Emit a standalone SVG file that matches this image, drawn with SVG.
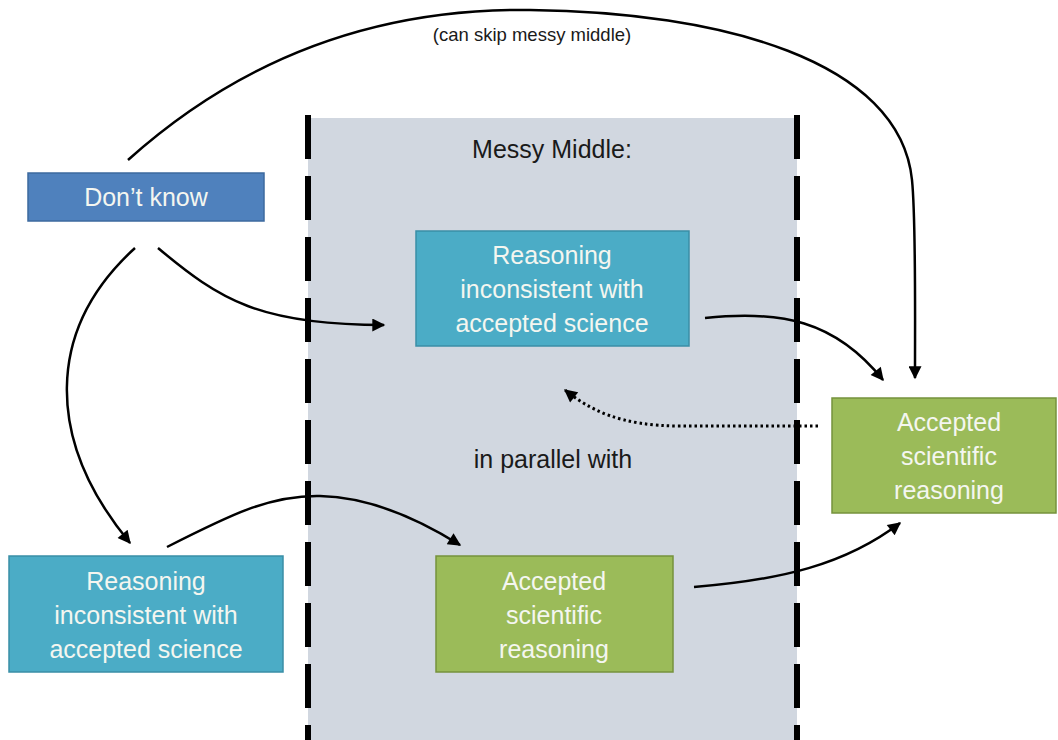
<svg xmlns="http://www.w3.org/2000/svg" width="1058" height="740" viewBox="0 0 1058 740">
<defs>
<style>
.lbl{font-family:"Liberation Sans",Arial,sans-serif;font-size:25px;fill:#f4f6f0;text-anchor:middle}
.dark{font-family:"Liberation Sans",Arial,sans-serif;fill:#1a1a1a;text-anchor:middle}
.conn{fill:none;stroke:#000;stroke-width:2.5}
.dot{fill:none;stroke:#000;stroke-width:3;stroke-dasharray:2.5 3}
.dash{stroke:#000;stroke-width:6;stroke-dasharray:44 17}
</style>
<marker id="ah" viewBox="0 0 10 10" refX="9" refY="5" markerWidth="15" markerHeight="13" markerUnits="userSpaceOnUse" orient="auto">
<path d="M0,0 L10,5 L0,10 z" fill="#000"/>
</marker>
</defs>
<rect width="1058" height="740" fill="#fff"/>
<g id="messy-middle">
<rect x="308" y="118" width="489" height="622" fill="#d1d7e0"/>
<line class="dash" x1="308" y1="115" x2="308" y2="740"/>
<line class="dash" x1="797" y1="115" x2="797" y2="740"/>
<text class="dark" x="552" y="158" font-size="25">Messy Middle:</text>
<text class="dark" x="553" y="468" font-size="25">in parallel with</text>
</g>
<g id="connectors">
<path class="conn" d="M128,160 C245,55 380,8 530,10 C720,12 900,60 912,180 C916,220 915,300 915,378" marker-end="url(#ah)"/>
<text class="dark" x="532" y="41" font-size="18.5">(can skip messy middle)</text>
<path class="conn" d="M158,248 C220,300 260,325 384,325" marker-end="url(#ah)"/>
<path class="conn" d="M135,248 C45,330 45,440 130,543" marker-end="url(#ah)"/>
<path class="conn" d="M167,547 C230,515 270,495 320,496 C370,497 420,520 460,545" marker-end="url(#ah)"/>
<path class="conn" d="M705,318 C780,310 835,320 883,380" marker-end="url(#ah)"/>
<path class="conn" d="M694,587 C780,580 845,565 900,523" marker-end="url(#ah)"/>
<path class="dot" d="M818,426 L680,426 C620,426 590,410 565,390" marker-end="url(#ah)"/>
</g>
<g id="dont-know">
<rect x="28" y="173" width="236" height="48" fill="#4f81bd" stroke="#3d6a9f" stroke-width="1.5"/>
<text class="lbl" x="146" y="206">Don’t know</text>
</g>
<g id="reasoning-top">
<rect x="416" y="231" width="273" height="115" fill="#4bacc6" stroke="#3a8ea6" stroke-width="1.5"/>
<text class="lbl" x="552" y="264">Reasoning</text>
<text class="lbl" x="552" y="298">inconsistent with</text>
<text class="lbl" x="552" y="332">accepted science</text>
</g>
<g id="accepted-right">
<rect x="832" y="398" width="224" height="115" fill="#9bbb59" stroke="#76923c" stroke-width="1.5"/>
<text class="lbl" x="949" y="431">Accepted</text>
<text class="lbl" x="949" y="465">scientific</text>
<text class="lbl" x="949" y="499">reasoning</text>
</g>
<g id="reasoning-bottom">
<rect x="9" y="556" width="274" height="116" fill="#4bacc6" stroke="#3a8ea6" stroke-width="1.5"/>
<text class="lbl" x="146" y="590">Reasoning</text>
<text class="lbl" x="146" y="624">inconsistent with</text>
<text class="lbl" x="146" y="658">accepted science</text>
</g>
<g id="accepted-bottom">
<rect x="436" y="556" width="237" height="116" fill="#9bbb59" stroke="#76923c" stroke-width="1.5"/>
<text class="lbl" x="554" y="590">Accepted</text>
<text class="lbl" x="554" y="624">scientific</text>
<text class="lbl" x="554" y="658">reasoning</text>
</g>
</svg>
